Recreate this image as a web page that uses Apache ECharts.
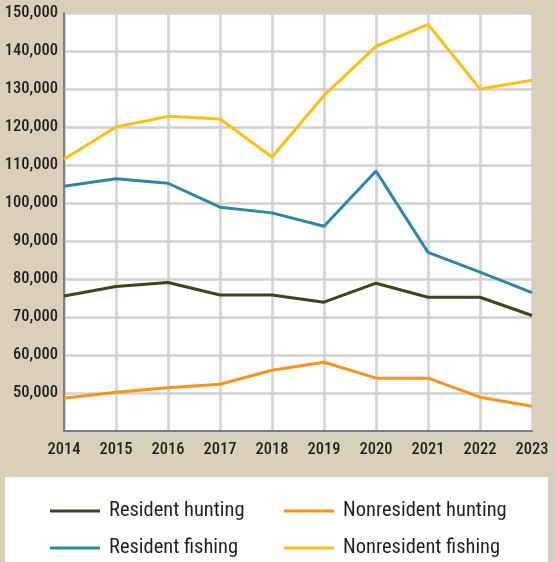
<!DOCTYPE html>
<html>
<head>
<meta charset="utf-8">
<script src="https://cdn.jsdelivr.net/npm/echarts@6/dist/echarts.min.js"></script>
<style>
html,body{margin:0;padding:0;background:#dacfbb;}
#chart{width:556px;height:562px;}
</style>
</head>
<body>
<div id="chart"></div>
<script>
const years = ['2014','2015','2016','2017','2018','2019','2020','2021','2022','2023'];
const residentHunting = [75500, 78000, 79100, 75800, 75800, 73900, 78900, 75200, 75200, 70400];
const nonresidentHunting = [48600, 50200, 51400, 52300, 56000, 58100, 53900, 53900, 48900, 46500];
const residentFishing = [104400, 106400, 105200, 98900, 97400, 93900, 108400, 87000, 81800, 76400];
const nonresidentFishing = [111500, 120000, 122800, 122100, 112100, 128300, 141200, 147000, 130000, 132300];
const yTicks = [40000, 150000, 10000]; // min, max, interval

const FONT = "'Roboto Condensed', 'Liberation Sans Narrow', sans-serif";
const chart = echarts.init(document.getElementById('chart'), null, {renderer:'canvas'});

function mk(name, data, color){
  return {name, type:'line', data, symbol:'none', smooth:false,
    lineStyle:{color, width:3}, itemStyle:{color}, z:3};
}

const legendBase = {orient:'vertical', top:500, padding:0,
  icon:'rect', itemWidth:50, itemHeight:3, itemGap:15,
  textStyle:{fontSize:20.5, lineHeight:22, color:'#231f20', fontFamily:FONT, padding:[0,0,0,4]}};

chart.setOption({
  backgroundColor:'#dacfbb',
  animation:false,
  textStyle:{fontFamily:FONT},
  graphic:[{type:'rect', shape:{x:5, y:477, width:543, height:90}, style:{fill:'#ffffff'}, z:0, silent:true}],
  grid:{left:64, right:24, top:13, bottom:131, show:true, backgroundColor:'#ffffff', borderWidth:0,
    outerBoundsMode:'none', containLabel:false},
  xAxis:{type:'category', data:years, boundaryGap:false,
    axisLine:{show:true, lineStyle:{color:'#7d7d7d', width:2}},
    axisTick:{show:false},
    axisLabel:{color:'#231f20', fontSize:16.5, fontWeight:500, fontFamily:FONT, margin:10},
    splitLine:{show:true, lineStyle:{color:'#d1d1d1', width:2.5}}},
  yAxis:{type:'value', min:yTicks[0], max:yTicks[1], interval:yTicks[2],
    axisLine:{show:true, lineStyle:{color:'#7d7d7d', width:2}},
    axisTick:{show:false},
    axisLabel:{color:'#231f20', fontSize:16.5, fontWeight:500, fontFamily:FONT, margin:6, showMinLabel:false,
      formatter:v=> v===yTicks[0] ? '' : v.toLocaleString('en-US')},
    splitLine:{show:true, lineStyle:{color:'#d1d1d1', width:2.5}}},
  legend:[
    Object.assign({}, legendBase, {data:['Resident hunting','Resident fishing'], left:50}),
    Object.assign({}, legendBase, {data:['Nonresident hunting','Nonresident fishing'], left:284})
  ],
  series:[
    mk('Resident hunting', residentHunting, '#3a4620'),
    mk('Nonresident hunting', nonresidentHunting, '#f7941d'),
    mk('Resident fishing', residentFishing, '#2f87a6'),
    mk('Nonresident fishing', nonresidentFishing, '#fdc010')
  ]
});
</script>
</body>
</html>
